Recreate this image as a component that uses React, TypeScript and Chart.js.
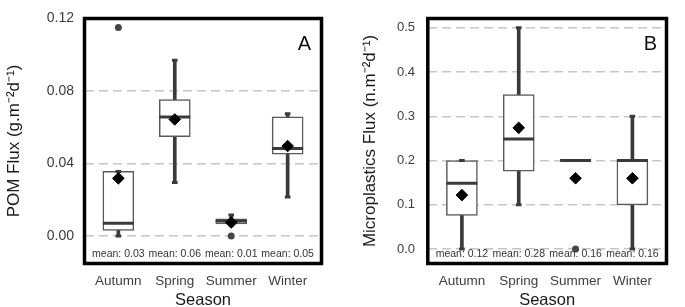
import React, { useEffect, useRef } from 'react';
import { Chart, registerables } from 'chart.js';

Chart.register(...registerables);

// ---------- data ----------
const seasons = ['Autumn', 'Spring', 'Summer', 'Winter'];

// Panel A: POM flux (g.m-2 d-1)
const pomMin = [0.0, 0.0295, 0.0062, 0.0215];
const pomQ1 = [0.003, 0.0548, 0.0067, 0.0452];
const pomMedian = [0.007, 0.0657, 0.0082, 0.0483];
const pomQ3 = [0.0356, 0.0752, 0.0095, 0.0657];
const pomMax = [0.0356, 0.097, 0.0116, 0.0675];
const pomMean = [0.0318, 0.0643, 0.0074, 0.0496];
const pomOutlierSeason = ['Autumn', 'Summer'];
const pomOutlierValue = [0.115, 0.0];
const pomMeanLabels = ['0.03', '0.06', '0.01', '0.05'];
const pomTicks = [0.0, 0.04, 0.08, 0.12];

// Panel B: Microplastics flux (n.m-2 d-1)
const mpMin = [0.0, 0.1, 0.2, 0.0];
const mpQ1 = [0.076, 0.176, 0.2, 0.1];
const mpMedian = [0.149, 0.249, 0.2, 0.2];
const mpQ3 = [0.2, 0.349, 0.2, 0.2];
const mpMax = [0.2, 0.5, 0.2, 0.3];
const mpMean = [0.122, 0.274, 0.16, 0.16];
const mpOutlierSeason = ['Summer'];
const mpOutlierValue = [0.0];
const mpMeanLabels = ['0.12', '0.28', '0.16', '0.16'];
const mpTicks = [0.0, 0.1, 0.2, 0.3, 0.4, 0.5];

// ---------- styling ----------
const FONT = "'Liberation Sans', Arial, Helvetica, sans-serif";
const DARK = '#3a3a3a';
const BOXLINE = '#5a5a5a';
const TICK = '#3d3d3d';
const GRID = '#c6c6c6';

const decorPlugin = {
  id: 'panelDecor',
  afterDatasetsDraw(chart: any, _args: any, opts: any) {
    const { ctx, chartArea } = chart;
    const xs = chart.scales.x;
    ctx.save();
    ctx.fillStyle = '#333';
    ctx.font = `10.5px ${FONT}`;
    ctx.textAlign = 'center';
    ctx.textBaseline = 'middle';
    (opts.meanLabels || []).forEach((lab: string, i: number) => {
      ctx.fillText('mean: ' + lab, xs.getPixelForValue(i + 1), chartArea.bottom - 9.5);
    });
    ctx.fillStyle = '#111';
    ctx.font = `20px ${FONT}`;
    ctx.textAlign = 'center';
    ctx.fillText(opts.letter, chartArea.right - opts.letterDx, chartArea.top + 26);
    ctx.restore();
  },
  afterDraw(chart: any) {
    const { ctx, chartArea } = chart;
    ctx.save();
    ctx.strokeStyle = '#000';
    ctx.lineWidth = 3.5;
    ctx.strokeRect(chartArea.left, chartArea.top, chartArea.right - chartArea.left, chartArea.bottom - chartArea.top);
    ctx.restore();
  },
};

type Panel = {
  min: number[]; q1: number[]; median: number[]; q3: number[]; max: number[]; mean: number[];
  outSeason: string[]; outValue: number[]; meanLabels: string[]; ticks: number[];
  yMin: number; yMax: number; decimals: number; yTitle: string; letter: string; letterDx: number;
  yWidth: number; padRight: number; tickPad: number; tickSize: number; titlePad: number;
};

function buildConfig(p: Panel): any {
  const xi = seasons.map((_, i) => i + 1);
  return {
    type: 'bar',
    data: {
      datasets: [
        {
          type: 'bar',
          data: xi.map((x, i) => ({ x, y: [p.min[i], p.max[i]] })),
          backgroundColor: DARK,
          borderWidth: 0,
          barThickness: 3,
          grouped: false,
          order: 6,
        },
        {
          type: 'bar',
          data: xi.map((x, i) => ({ x, y: [p.q1[i], p.q3[i]] })),
          backgroundColor: '#ffffff',
          borderColor: BOXLINE,
          borderWidth: 1.5,
          borderSkipped: false,
          barThickness: 31,
          grouped: false,
          order: 5,
        },
        {
          type: 'line',
          data: xi.map((x, i) => ({ x, y: p.median[i] })),
          showLine: false,
          pointStyle: 'line',
          pointRadius: 15.5,
          pointBorderWidth: 3,
          pointBorderColor: DARK,
          borderColor: DARK,
          order: 4,
        },
        {
          type: 'line',
          data: [
            ...xi.map((x, i) => ({ x, y: p.min[i] })),
            ...xi.map((x, i) => ({ x, y: p.max[i] })),
          ],
          showLine: false,
          pointStyle: 'line',
          pointRadius: 2.8,
          pointBorderWidth: 3,
          pointBorderColor: DARK,
          borderColor: DARK,
          order: 4,
        },
        {
          type: 'line',
          data: p.outSeason.map((s, i) => ({ x: seasons.indexOf(s) + 1, y: p.outValue[i] })),
          showLine: false,
          pointStyle: 'circle',
          pointRadius: 3.5,
          pointBackgroundColor: '#454545',
          pointBorderColor: '#454545',
          pointBorderWidth: 0,
          order: 3,
        },
        {
          type: 'line',
          data: xi.map((x, i) => ({ x, y: p.mean[i] })),
          showLine: false,
          pointStyle: 'rectRot',
          pointRadius: 5.8,
          pointBackgroundColor: '#000',
          pointBorderColor: '#000',
          pointBorderWidth: 1,
          order: 2,
        },
      ],
    },
    options: {
      responsive: false,
      animation: false,
      events: [],
      layout: { padding: { left: 0, right: p.padRight, top: 4.5, bottom: 0 } },
      plugins: {
        legend: { display: false },
        tooltip: { enabled: false },
        panelDecor: { meanLabels: p.meanLabels, letter: p.letter, letterDx: p.letterDx },
      },
      scales: {
        x: {
          type: 'linear',
          min: 0.4,
          max: 4.6,
          offset: false,
          afterBuildTicks: (s: any) => {
            s.ticks = seasons.map((_, i) => ({ value: i + 1 }));
          },
          afterFit: (s: any) => {
            s.height = 43.5;
            s.paddingLeft = 0;
            s.paddingRight = 0;
          },
          ticks: {
            autoSkip: false,
            maxRotation: 0,
            padding: 9.4,
            color: TICK,
            font: { family: FONT, size: 13.5 },
            callback: (_v: any, i: number) => seasons[i],
          },
          grid: { display: false, offset: false, drawTicks: false },
          border: { display: false },
          title: {
            display: true,
            text: 'Season',
            color: '#1a1a1a',
            padding: 0,
            font: { family: FONT, size: 16.5, lineHeight: 0.85 },
          },
        },
        y: {
          type: 'linear',
          min: p.yMin,
          max: p.yMax,
          afterBuildTicks: (s: any) => {
            s.ticks = p.ticks.map((v) => ({ value: v }));
          },
          afterFit: (s: any) => {
            s.width = p.yWidth;
            s.paddingTop = 0;
            s.paddingBottom = 0;
          },
          ticks: {
            padding: p.tickPad,
            color: TICK,
            font: { family: FONT, size: p.tickSize },
            callback: (v: any) => Number(v).toFixed(p.decimals),
          },
          grid: { color: GRID, lineWidth: 1.4, drawTicks: false },
          border: { display: false, dash: [9, 5] },
          title: {
            display: true,
            text: p.yTitle,
            color: '#1a1a1a',
            padding: { top: p.titlePad, bottom: 0 },
            font: { family: FONT, size: 17 },
          },
        },
      },
    },
    plugins: [decorPlugin],
  };
}

const panelA: Panel = {
  min: pomMin, q1: pomQ1, median: pomMedian, q3: pomQ3, max: pomMax, mean: pomMean,
  outSeason: pomOutlierSeason, outValue: pomOutlierValue, meanLabels: pomMeanLabels, ticks: pomTicks,
  yMin: -0.0152, yMax: 0.12, decimals: 2, yTitle: 'POM Flux (g.m⁻²d⁻¹)', letter: 'A', letterDx: 17,
  yWidth: 84.5, padRight: 10, tickPad: 10.5, tickSize: 14, titlePad: 3.8,
};

const panelB: Panel = {
  min: mpMin, q1: mpQ1, median: mpMedian, q3: mpQ3, max: mpMax, mean: mpMean,
  outSeason: mpOutlierSeason, outValue: mpOutlierValue, meanLabels: mpMeanLabels, ticks: mpTicks,
  yMin: -0.0325, yMax: 0.521, decimals: 1, yTitle: 'Microplastics Flux (n.m⁻²d⁻¹)', letter: 'B', letterDx: 16,
  yWidth: 87.8, padRight: 3.8, tickPad: 12.8, tickSize: 13, titlePad: 19.8,
};

function PanelChart({ panel, width, left }: { panel: Panel; width: number; left: number }) {
  const ref = useRef<HTMLCanvasElement>(null);
  useEffect(() => {
    const chart = new Chart(ref.current as HTMLCanvasElement, buildConfig(panel));
    return () => chart.destroy();
  }, [panel]);
  return (
    <canvas
      ref={ref}
      width={width}
      height={307}
      style={{ position: 'absolute', left, top: 0, width, height: 307 }}
    />
  );
}

export default function App() {
  return (
    <div style={{ position: 'absolute', left: 0, top: 0, width: 685, height: 307, background: '#fff', overflow: 'hidden' }}>
      <PanelChart panel={panelA} width={340} left={0} />
      <PanelChart panel={panelB} width={345} left={340} />
    </div>
  );
}
